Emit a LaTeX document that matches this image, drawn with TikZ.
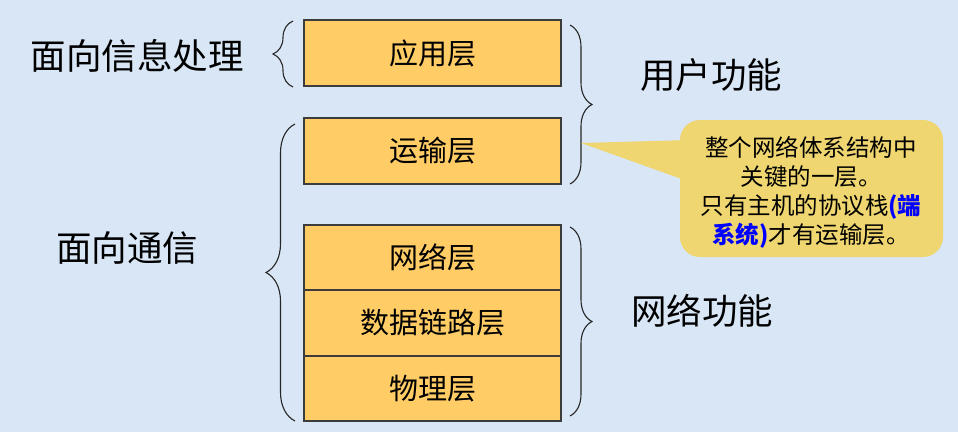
\documentclass[tikz,border=0pt]{standalone}
\usepackage{fontspec}
\setmainfont{Noto Sans CJK SC}
\usetikzlibrary{decorations.pathreplacing}
\definecolor{bgblue}{RGB}{216,230,246}
\definecolor{layerfill}{RGB}{255,204,102}
\definecolor{calloutfill}{RGB}{240,214,112}
\definecolor{bordergray}{RGB}{60,60,60}
\tikzset{
  layerbox/.style={draw=bordergray, line width=1.2pt, fill=layerfill, minimum width=257pt, minimum height=66pt, inner sep=0pt, font=\fontsize{29}{32}\selectfont},
  biglabel/.style={font=\fontsize{35.5}{38}\selectfont, inner sep=0pt},
  bracestyle/.style={draw=black!85, line width=1.1pt, decorate, decoration={brace, amplitude=#1}},
}
\begin{document}
\begin{tikzpicture}[x=1pt,y=-1pt]
\fill[bgblue] (0,0) rectangle (958,432);
\useasboundingbox (0,0) rectangle (958,432);

% layers
\node[layerbox] (app) at (432.5,53) {应用层};
\node[layerbox] (trans) at (432.5,151) {运输层};
\node[layerbox, minimum height=65pt] (net) at (432.5,257.5) {网络层};
\node[layerbox, minimum height=66pt] (link) at (432.5,323) {数据链路层};
\node[layerbox, minimum height=65pt] (phy) at (432.5,388.5) {物理层};

% braces
\coordinate (lb1a) at (293,87);
\coordinate (lb1b) at (293,21);
\draw[bracestyle=20pt] (lb1a) -- (lb1b);
\coordinate (lb2a) at (295,421);
\coordinate (lb2b) at (295,124);
\draw[bracestyle=29pt] (lb2a) -- (lb2b);
\coordinate (rb1a) at (570,25);
\coordinate (rb1b) at (570,184);
\draw[bracestyle=22pt] (rb1a) -- (rb1b);
\coordinate (rb2a) at (570,227);
\coordinate (rb2b) at (570,416);
\draw[bracestyle=22pt] (rb2a) -- (rb2b);

% labels
\node[biglabel] (info) at (137,56) {面向信息处理};
\node[biglabel] (comm) at (127,248) {面向通信};
\node[biglabel] (user) at (711,75) {用户功能};
\node[biglabel] (netf) at (702,311) {网络功能};

% callout
\coordinate (tip) at (581,143);
\fill[calloutfill] (tip) -- (690,140) -- (690,182) -- cycle;
\fill[calloutfill, rounded corners=20pt] (680,120) rectangle (943,257);
\node[align=center, font=\fontsize{23.5}{29}\selectfont, inner sep=0pt] (callout) at (811,192)
  {整个网络体系结构中\\关键的一层。\\只有主机的协议栈\textcolor{blue}{\textbf{(端}}\\\textcolor{blue}{\textbf{系统)}}才有运输层。};
\end{tikzpicture}
\end{document}
